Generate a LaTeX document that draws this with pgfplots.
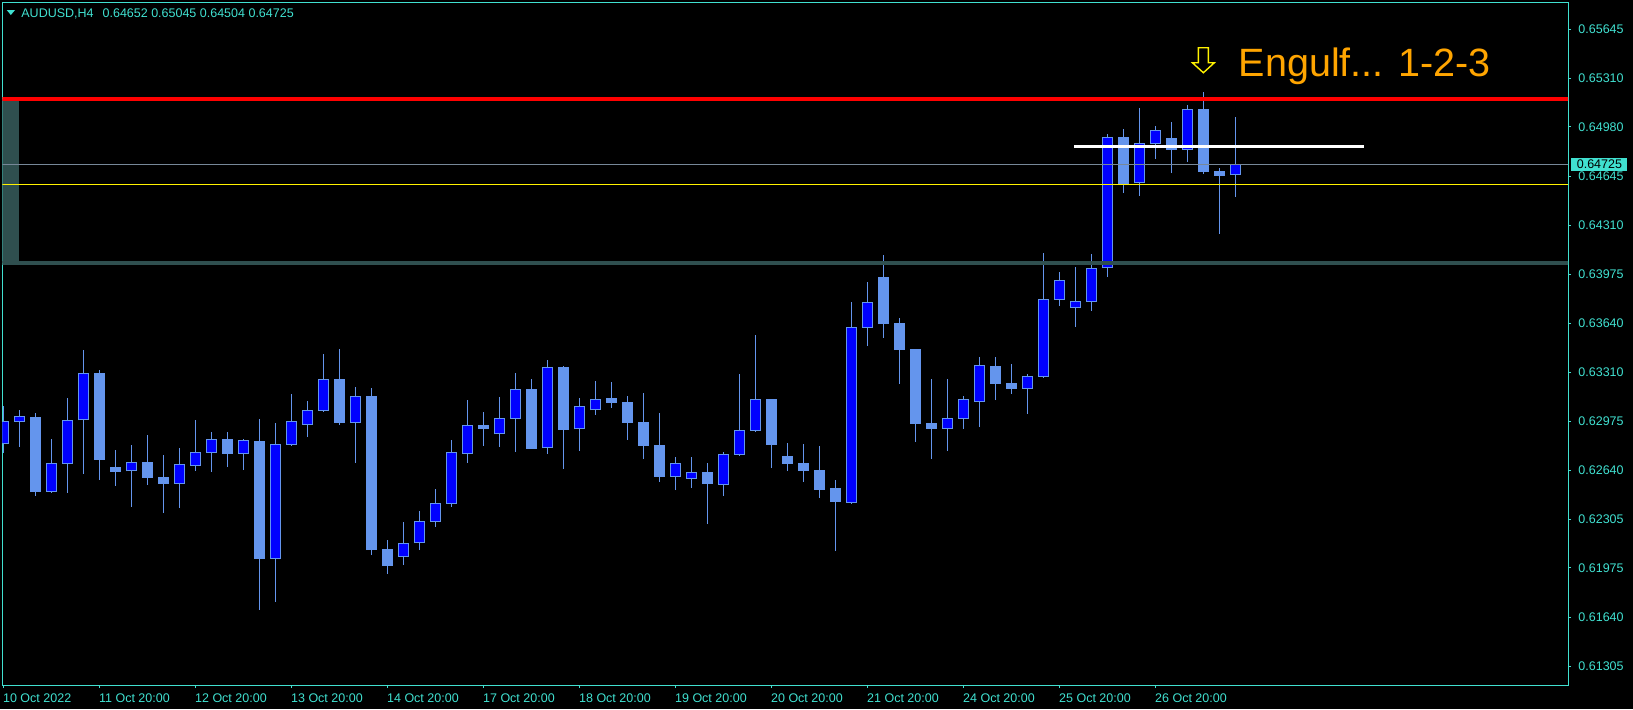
\documentclass[border=0pt]{standalone}
\usepackage{fontspec}
\setmainfont{Liberation Sans}
\usepackage{pgfplots}
\usepackage{pgfplotstable}
\pgfplotsset{compat=1.18}
\definecolor{turq}{RGB}{64,224,208}
\definecolor{cfb}{RGB}{100,149,237}
\definecolor{bullblue}{RGB}{0,0,255}
\definecolor{slate}{RGB}{47,79,79}
\definecolor{lsgray}{RGB}{119,136,153}
\definecolor{mtorange}{RGB}{255,165,0}
\newcommand\mtfont{\fontsize{6.25pt}{7.5pt}\selectfont}

\pgfdeclareplotmark{hollowdown}{%
  \pgfpathmoveto{\pgfpoint{-2.5pt}{6.25pt}}%
  \pgfpathlineto{\pgfpoint{2.5pt}{6.25pt}}%
  \pgfpathlineto{\pgfpoint{2.5pt}{-1.25pt}}%
  \pgfpathlineto{\pgfpoint{5.5pt}{-1.25pt}}%
  \pgfpathlineto{\pgfpoint{0pt}{-6.25pt}}%
  \pgfpathlineto{\pgfpoint{-5.5pt}{-1.25pt}}%
  \pgfpathlineto{\pgfpoint{-2.5pt}{-1.25pt}}%
  \pgfpathclose
  \pgfusepath{fill,stroke}}

% bullish candles (close > open)
\pgfplotstableread{
i  o       h       l       c
0  0.62817 0.63079 0.62760 0.62974
1  0.62972 0.63051 0.62801 0.63008
3  0.62495 0.62854 0.62488 0.62688
4  0.62686 0.63131 0.62488 0.62981
5  0.62981 0.63460 0.62617 0.63301
8  0.62633 0.62813 0.62392 0.62695
11 0.62549 0.62792 0.62386 0.62681
12 0.62672 0.62983 0.62638 0.62763
13 0.62760 0.62901 0.62631 0.62851
15 0.62754 0.62854 0.62645 0.62845
17 0.62038 0.62963 0.61745 0.62817
18 0.62815 0.63160 0.62808 0.62974
19 0.62951 0.63113 0.62870 0.63049
20 0.63047 0.63433 0.63040 0.63260
22 0.62965 0.63208 0.62692 0.63144
25 0.62052 0.62288 0.61995 0.62143
26 0.62143 0.62363 0.62097 0.62292
27 0.62290 0.62513 0.62256 0.62415
28 0.62413 0.62847 0.62392 0.62763
29 0.62754 0.63119 0.62692 0.62947
31 0.62885 0.63140 0.62801 0.62994
32 0.62992 0.63303 0.62767 0.63192
34 0.62790 0.63392 0.62754 0.63342
36 0.62919 0.63131 0.62774 0.63076
37 0.63049 0.63249 0.63019 0.63124
42 0.62597 0.62731 0.62506 0.62688
43 0.62583 0.62731 0.62520 0.62626
45 0.62542 0.62765 0.62465 0.62749
46 0.62747 0.63297 0.62738 0.62913
47 0.62910 0.63562 0.62904 0.63124
53 0.62420 0.63787 0.62413 0.63615
54 0.63612 0.63924 0.63487 0.63785
59 0.62924 0.63263 0.62774 0.62995
60 0.62992 0.63147 0.62922 0.63124
61 0.63108 0.63412 0.62935 0.63356
64 0.63197 0.63297 0.63026 0.63283
65 0.63278 0.64121 0.63272 0.63808
66 0.63803 0.63992 0.63760 0.63935
67 0.63749 0.64026 0.63617 0.63792
68 0.63790 0.64114 0.63728 0.64017
69 0.64017 0.64932 0.63960 0.64912
71 0.64596 0.65109 0.64512 0.64869
72 0.64866 0.64987 0.64762 0.64957
74 0.64825 0.65128 0.64741 0.65100
77 0.64652 0.65045 0.64504 0.64725
}\bull

% bearish candles (close < open)
\pgfplotstableread{
i  o       h       l       c
2  0.63004 0.63031 0.62467 0.62492
6  0.63303 0.63324 0.62576 0.62713
7  0.62663 0.62779 0.62536 0.62631
9  0.62695 0.62881 0.62542 0.62590
10 0.62595 0.62745 0.62352 0.62549
14 0.62851 0.62901 0.62665 0.62754
16 0.62838 0.62990 0.61690 0.62038
21 0.63260 0.63467 0.62949 0.62963
23 0.63147 0.63199 0.62063 0.62097
24 0.62104 0.62165 0.61936 0.61990
30 0.62949 0.63038 0.62808 0.62924
33 0.63192 0.63263 0.62788 0.62788
35 0.63342 0.63353 0.62651 0.62917
38 0.63131 0.63242 0.63065 0.63101
39 0.63106 0.63147 0.62847 0.62965
40 0.62969 0.63167 0.62717 0.62808
41 0.62813 0.63031 0.62561 0.62597
44 0.62629 0.62690 0.62274 0.62547
48 0.63126 0.63126 0.62656 0.62813
49 0.62738 0.62826 0.62636 0.62685
50 0.62688 0.62820 0.62561 0.62638
51 0.62642 0.62806 0.62454 0.62508
52 0.62520 0.62574 0.62090 0.62427
55 0.63958 0.64108 0.63544 0.63637
56 0.63644 0.63678 0.63231 0.63460
57 0.63467 0.63467 0.62835 0.62958
58 0.62963 0.63263 0.62720 0.62922
62 0.63351 0.63412 0.63119 0.63231
63 0.63235 0.63365 0.63163 0.63197
70 0.64912 0.64966 0.64532 0.64594
73 0.64905 0.65014 0.64666 0.64825
75 0.65103 0.65218 0.64662 0.64673
76 0.64678 0.64701 0.64253 0.64648
}\bear

\pgfplotsset{candle/.style={draw=none, mark=none, error bars/.cd, y dir=plus, y explicit, error mark=none}}

\begin{document}
\begin{tikzpicture}
\fill[black] (0,0) rectangle (816.5pt,-354.5pt);
\begin{axis}[
  at={(1.25pt,-342.5pt)}, anchor=south west,
  scale only axis, width=782.75pt, height=341.15pt,
  xmin=-0.052, xmax=97.79, ymin=0.611771, ymax=0.658270,
  clip mode=individual,
  axis line style={draw=turq, line width=0.5pt},
  xtick={0,6,12,18,24,30,36,42,48,54,60,66,72},
  xticklabels={10 Oct 2022,11 Oct 20:00,12 Oct 20:00,13 Oct 20:00,14 Oct 20:00,17 Oct 20:00,18 Oct 20:00,19 Oct 20:00,20 Oct 20:00,21 Oct 20:00,24 Oct 20:00,25 Oct 20:00,26 Oct 20:00},
  ytick={0.65645,0.65310,0.64980,0.64645,0.64310,0.63975,0.63640,0.63310,0.62975,0.62640,0.62305,0.61975,0.61640,0.61305},
  yticklabels={0.65645,0.65310,0.64980,0.64645,0.64310,0.63975,0.63640,0.63310,0.62975,0.62640,0.62305,0.61975,0.61640,0.61305},
  xtick pos=left, ytick pos=right,
  tick align=outside, major tick length=1.5pt,
  tick style={draw=turq, line width=0.5pt},
  ticklabel style={font=\mtfont, text=turq, inner sep=0pt},
  xticklabel style={anchor=north west, xshift=-0.3pt, yshift=-2.85pt},
  yticklabel style={anchor=west, xshift=3.5pt},
  scaled y ticks=false,
]
% wicks
\addplot[candle, error bar style={draw=cfb, line width=0.5pt}]
  table[x=i, y=l, y error plus expr=\thisrow{h}-\thisrow{l}] {\bull};
\addplot[candle, error bar style={draw=cfb, line width=0.5pt}]
  table[x=i, y=l, y error plus expr=\thisrow{h}-\thisrow{l}] {\bear};
% bodies
\addplot[candle, error bar style={draw=cfb, line width=5.33pt}]
  table[x=i, y=c, y error plus expr=\thisrow{o}-\thisrow{c}] {\bear};
\addplot[candle, error bar style={draw=cfb, line width=5.33pt}]
  table[x=i, y=o, y error plus expr=\thisrow{c}-\thisrow{o}] {\bull};
\addplot[candle, error bar style={draw=bullblue, line width=4.33pt}]
  table[x=i, y expr=\thisrow{o}+0.000068, y error plus expr=\thisrow{c}-\thisrow{o}-0.000136] {\bull};
% rectangle object
\addplot[fill=slate, draw=none] coordinates {(-1,0.65169) (0.979,0.65169) (0.979,0.64052) (-1,0.64052) (-1,0.65169)};
% horizontal lines
\addplot[slate, line width=1.85pt] coordinates {(-1,0.64052) (100,0.64052)};
\addplot[lsgray, line width=0.5pt] coordinates {(-1,0.64725) (100,0.64725)};
\addplot[yellow, line width=0.5pt] coordinates {(-1,0.64589) (100,0.64589)};
\addplot[red, line width=1.85pt] coordinates {(-1,0.65169) (100,0.65169)};
\addplot[white, line width=1.2pt] coordinates {(66.92,0.64848) (85.06,0.64848)};
% arrow
\addplot[only marks, mark=hollowdown, mark options={draw=yellow, fill=black, line width=0.7pt}] coordinates {(75,0.65435)};
\node[anchor=base west, inner sep=0pt, text=mtorange, font=\fontsize{19.75pt}{23pt}\selectfont] at (axis cs:77.2,0.65323) {Engulf... 1-2-3};
\coordinate (cp) at (axis cs:97.79,0.64725);
\end{axis}
\node[fill=turq, text=black, font=\mtfont, inner sep=0pt, minimum width=28pt, minimum height=6.8pt, anchor=west] at ([xshift=1.5pt]cp) {0.64725};
\fill[turq] (3.35pt,-5pt) -- (7.5pt,-5pt) -- (5.43pt,-7.5pt) -- cycle;
\node[anchor=base west, inner sep=0pt, text=turq, font=\mtfont] at (10.5pt,-8.65pt) {AUDUSD,H4\hspace{4.5pt}0.64652 0.65045 0.64504 0.64725};
\pgfresetboundingbox
\path[use as bounding box] (0,0) rectangle (816.5pt,-354.5pt);
\end{tikzpicture}
\end{document}
